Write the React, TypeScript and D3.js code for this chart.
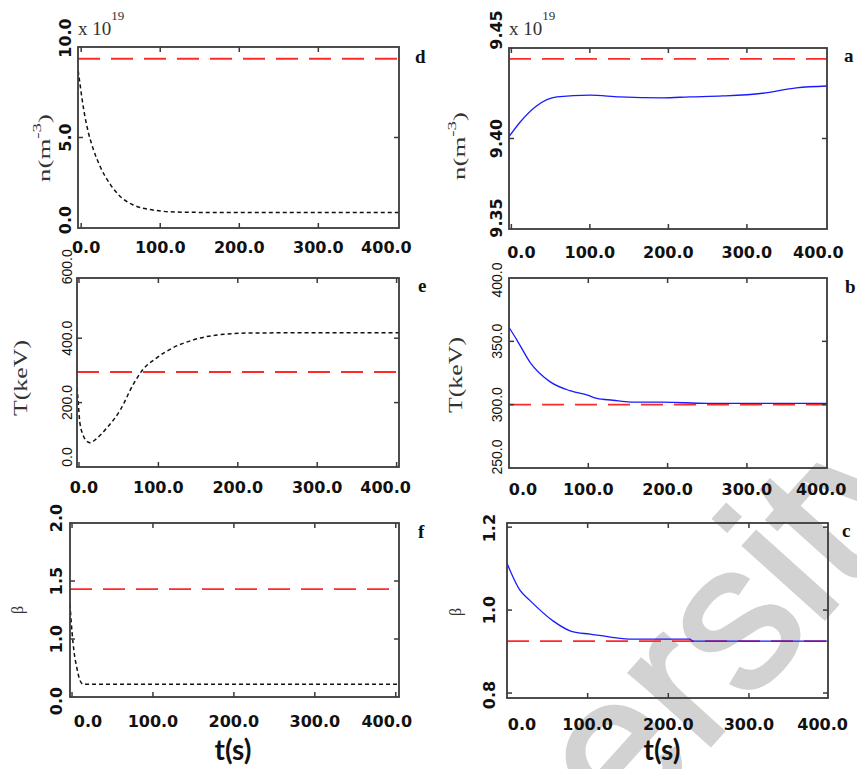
import * as d3 from "d3"

// time axis ticks shared by all six panels
const timeTicks = [0, 100, 200, 300, 400]

// d: density, feedback off (dotted)
const dTime = [-3.8, -1, 3, 9, 15, 24, 37, 47, 66, 87, 122, 200, 300, 402]
const dValue = [8.7, 7.8, 6.6, 5.3, 4.4, 3.4, 2.4, 1.85, 1.27, 1.02, 0.88, 0.85, 0.85, 0.85]
const dTarget = 9.35
const dTicks = [0, 5, 10]

// a: density, feedback on
const aTime = [-3, 11, 32, 58, 100, 138, 193, 227, 269, 320, 363, 402]
const aValue = [9.401, 9.409, 9.418, 9.423, 9.424, 9.423, 9.4225, 9.423, 9.4235, 9.425, 9.428, 9.429]
const aTarget = 9.444
const aTicks = [9.35, 9.4, 9.45]

// e: temperature, feedback off
const eTime = [-3, -1, 1, 5, 11, 14, 22, 35, 52, 68, 80, 98, 118, 143, 174, 215, 300, 403]
const eValue = [270, 202, 140, 100, 78, 75, 88, 121, 177, 255, 301, 339, 370, 394, 410, 416, 417, 417]
const eTarget = 295
const eTicks = [0, 200, 400, 600]

// b: temperature, feedback on
const bTime = [0, 10, 27, 52, 77, 99, 111, 131, 153, 194, 250, 401]
const bValue = [361, 351, 333, 318, 311, 307.5, 305, 303.5, 302, 302, 301, 301]
const bTarget = 300
const bTicks = [250, 300, 350, 400]

// f: beta, feedback off
const fTime = [-2.5, 0, 2.5, 6, 10, 14, 402]
const fValue = [1.3, 1.06, 0.89, 0.75, 0.64, 0.61, 0.61]
const fTarget = 1.43
const fTicks = [0.5, 1.0, 1.5, 2.0]
const fTickLabels = ["0.0", "1.0", "1.5", "2.0"]

// c: beta, feedback on
const cTime = [0, 16, 28, 57, 81, 103, 128, 156, 227, 230, 398]
const cValue = [1.113, 1.048, 1.024, 0.974, 0.948, 0.942, 0.935, 0.93, 0.93, 0.925, 0.925]
const cTarget = 0.925
const cTicks = [0.8, 1.0, 1.2]

const tickFont = "'DejaVu Sans', sans-serif"
const serif = "'Liberation Serif', 'Times New Roman', serif"

const Panel = ({ p }) => {
  const [x0, y0, x1, y1] = p.box
  const x = d3.scaleLinear().domain(p.xDomain).range([x0, x1])
  const y = d3.scaleLinear().domain(p.yDomain).range([y1, y0])
  const pts = p.time.map((t, i) => [t, p.value[i]])
  const line = d3
    .line()
    .x(d => x(d[0]))
    .y(d => y(d[1]))
    .curve(d3.curveMonotoneX)
  const clipId = "clip-" + p.letter
  const inX = t => t > p.xDomain[0] + 2 && t < p.xDomain[1] - 2
  const inY = v => {
    const py = y(v)
    return py > y0 + 3 && py < y1 - 3
  }
  const labels = p.yLabels || p.yTicks.map(p.yFmt)

  return (
    <g>
      <defs>
        <clipPath id={clipId}>
          <rect x={x0} y={y0} width={x1 - x0} height={y1 - y0} />
        </clipPath>
      </defs>
      <g clipPath={`url(#${clipId})`}>
        <line
          x1={x0} x2={x1} y1={y(p.target)} y2={y(p.target)}
          stroke="#ff2a2a" strokeWidth={1.8} strokeDasharray="22 11"
        />
        <path
          d={line(pts)}
          fill="none"
          stroke={p.dotted ? "#111" : "#1a1aff"}
          strokeWidth={p.dotted ? 1.5 : 1.3}
          strokeDasharray={p.dotted ? "4 3" : null}
        />
      </g>
      <rect x={x0} y={y0} width={x1 - x0} height={y1 - y0} fill="none" stroke="#3a3a3a" strokeWidth={1.8} />
      {timeTicks.filter(inX).map(t => (
        <g key={"xt" + t} stroke="#3a3a3a" strokeWidth={1.5}>
          <line x1={x(t)} x2={x(t)} y1={y0} y2={y0 + 5} />
          <line x1={x(t)} x2={x(t)} y1={y1} y2={y1 - 5} />
        </g>
      ))}
      {p.yTicks.filter(inY).map(v => (
        <g key={"yt" + v} stroke="#3a3a3a" strokeWidth={1.5}>
          <line x1={x0} x2={x0 + 5} y1={y(v)} y2={y(v)} />
          <line x1={x1} x2={x1 - 5} y1={y(v)} y2={y(v)} />
        </g>
      ))}
      {timeTicks.map((t, i) => {
        const dx = i === 0 ? p.xEdge[0] : i === timeTicks.length - 1 ? p.xEdge[1] : 0
        return (
          <text
            key={"xl" + t}
            x={x(t) + dx} y={y1 + p.xGap}
            textAnchor="middle" fontFamily={tickFont} fontWeight="bold" fontSize={16} fill="#111"
          >
            {d3.format(".1f")(t)}
          </text>
        )
      })}
      {p.yTicks.map((v, i) => {
        const dy = i === 0 ? p.yEdge[0] : i === p.yTicks.length - 1 ? p.yEdge[1] : 0
        const cx = x0 - p.yGap
        const cy = y(v) + dy
        return (
          <text
            key={"yl" + v}
            transform={`translate(${cx},${cy}) rotate(-90)`}
            textAnchor="middle"
            fontFamily={p.yBold ? tickFont : "'Liberation Sans', sans-serif"}
            fontWeight={p.yBold ? "bold" : "normal"}
            fontSize={p.yBold ? 16 : 14}
            fill="#111"
          >
            {labels[i]}
          </text>
        )
      })}
      <text
        transform={`translate(${p.title.x},${p.title.y}) rotate(-90)`}
        textAnchor="middle" dominantBaseline="central"
        fontFamily={serif} fontSize={p.title.size} fill="#333"
        textLength={p.title.len} lengthAdjust="spacingAndGlyphs"
      >
        {p.title.text}
        {p.title.sup ? (
          <tspan dy={-7} fontSize={p.title.size * 0.7}>{p.title.sup}</tspan>
        ) : null}
        {p.title.sup ? <tspan dy={7}>)</tspan> : null}
      </text>
      <text x={x1 + p.letterDx} y={p.letterY} fontFamily={serif} fontWeight="bold" fontSize={19} fill="#111">
        {p.letter}
      </text>
      {p.scaleNote ? (
        <text x={x0} y={35} fontFamily={serif} fontSize={19} fill="#333">
          x 10
          <tspan dy={-15} fontSize={13}>19</tspan>
        </text>
      ) : null}
    </g>
  )
}

const App = () => {
  const nTitle = (cx, cy) => ({ x: cx, y: cy, text: "n(m", sup: "-3", size: 17, len: 68 })
  const tTitle = (cx, cy) => ({ x: cx, y: cy, text: "T(keV)", size: 18, len: 76 })
  const bTitle = (cx, cy) => ({ x: cx, y: cy, text: "β", size: 16, len: null })

  const panels = [
    {
      letter: "d", box: [78, 47, 399, 228], xDomain: [-4, 402], yDomain: [0, 10],
      time: dTime, value: dValue, target: dTarget, dotted: true,
      yTicks: dTicks, yFmt: d3.format(".1f"), yBold: true,
      xGap: 25, xEdge: [5, -11], yGap: 7, yEdge: [-8, -9],
      title: nTitle(44, 148), letterDx: 16, letterY: 63, scaleNote: true,
    },
    {
      letter: "a", box: [509, 48, 827, 229], xDomain: [-3, 402], yDomain: [9.35, 9.45],
      time: aTime, value: aValue, target: aTarget, dotted: false,
      yTicks: aTicks, yFmt: d3.format(".2f"), yBold: true,
      xGap: 29, xEdge: [10, -7], yGap: 7, yEdge: [-11, -18],
      title: nTitle(459, 146), letterDx: 17, letterY: 62, scaleNote: true,
    },
    {
      letter: "e", box: [77, 278, 399, 467], xDomain: [-2.5, 403], yDomain: [0, 587],
      time: eTime, value: eValue, target: eTarget, dotted: true,
      yTicks: eTicks, yFmt: d3.format(".1f"), yBold: false,
      xGap: 26, xEdge: [5, -11], yGap: 5, yEdge: [-10, -7],
      title: tTitle(21, 378), letterDx: 19, letterY: 292,
    },
    {
      letter: "b", box: [509, 278, 827, 468], xDomain: [0, 401], yDomain: [250, 400],
      time: bTime, value: bValue, target: bTarget, dotted: false,
      yTicks: bTicks, yFmt: d3.format(".1f"), yBold: false,
      xGap: 27, xEdge: [14, -5], yGap: 7, yEdge: [-11, 2],
      title: tTitle(456, 375), letterDx: 18, letterY: 293,
    },
    {
      letter: "f", box: [70, 523, 399, 697], xDomain: [-2.5, 404], yDomain: [0.5, 2.0],
      time: fTime, value: fValue, target: fTarget, dotted: true,
      yTicks: fTicks, yLabels: fTickLabels, yFmt: d3.format(".1f"), yBold: true,
      xGap: 30, xEdge: [16, -9], yGap: 8, yEdge: [4, -5],
      title: bTitle(17, 610), letterDx: 19, letterY: 538,
    },
    {
      letter: "c", box: [507, 523, 828, 698], xDomain: [0, 398], yDomain: [0.788, 1.21],
      time: cTime, value: cValue, target: cTarget, dotted: false,
      yTicks: cTicks, yFmt: d3.format(".1f"), yBold: true,
      xGap: 32, xEdge: [15, -7], yGap: 12, yEdge: [2, 1],
      title: bTitle(455, 612), letterDx: 14, letterY: 537,
    },
  ]

  return (
    <svg
      width={857} height={769}
      style={{ position: "absolute", left: 0, top: 0, background: "#fff" }}
    >
      <rect width={857} height={769} fill="#fff" />
      <text
        transform="translate(625,840) rotate(-48)"
        fontFamily="'Liberation Sans', Arial, sans-serif" fontSize={205} fill="#d2d2d2"
        stroke="#d2d2d2" strokeWidth={4}
      >
        ersity
      </text>
      {panels.map(p => <Panel key={p.letter} p={p} />)}
      <text x={233} y={760} textAnchor="middle" fontFamily="Lato, 'Open Sans', sans-serif" fontWeight="bold" fontSize={28} fill="#111">
        t(s)
      </text>
      <text x={662} y={760} textAnchor="middle" fontFamily="Lato, 'Open Sans', sans-serif" fontWeight="bold" fontSize={28} fill="#111">
        t(s)
      </text>
    </svg>
  )
}

export default App
